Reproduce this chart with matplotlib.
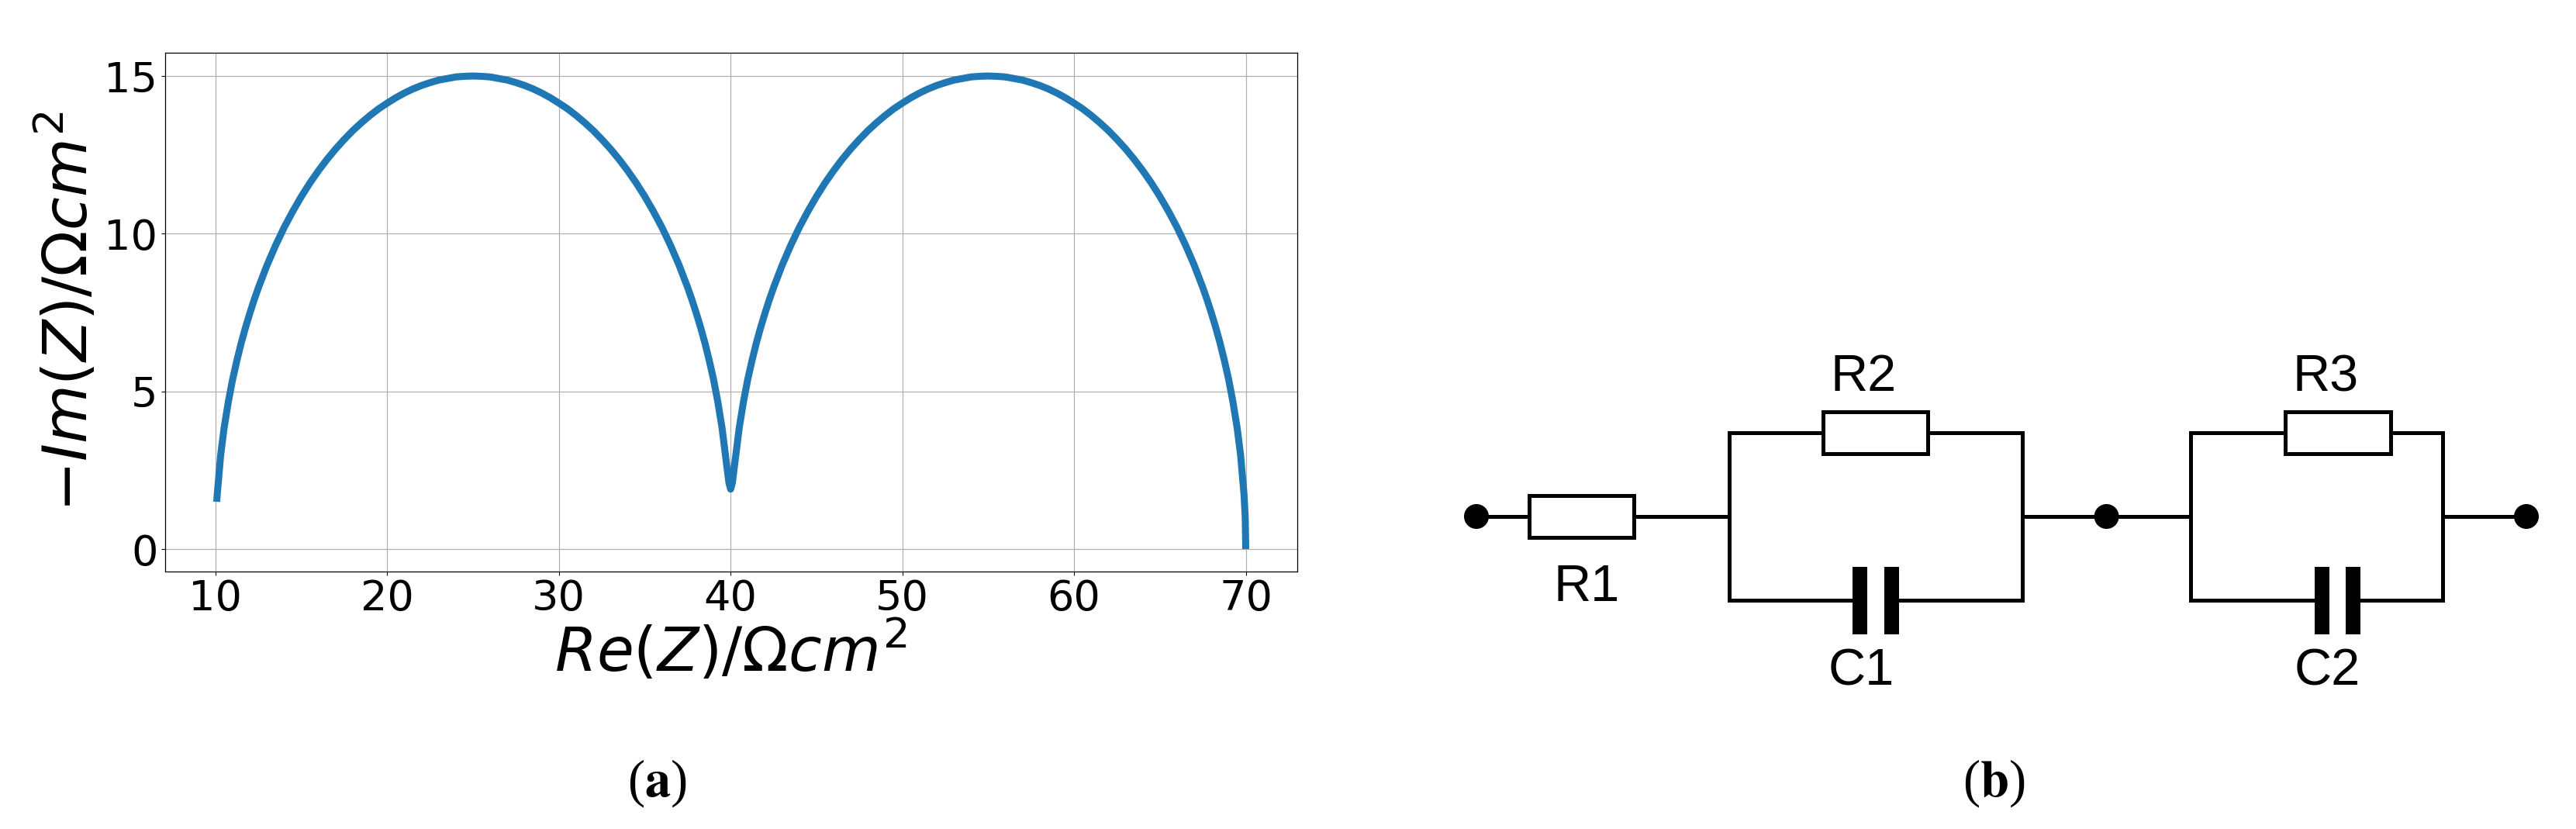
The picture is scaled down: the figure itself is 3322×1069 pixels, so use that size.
import matplotlib
matplotlib.use('Agg')
import matplotlib.pyplot as plt
from matplotlib.patches import Rectangle, Circle

W, H = 3323, 1069

# nyquist curve, one list pair per arc
re_left = [10.07, 10.1, 10.3, 10.5, 10.75, 11, 11.25, 11.5, 11.75, 12, 12.25, 12.5, 13, 13.5, 14, 14.5, 15, 15.5, 16, 16.5,
           17, 17.5, 18, 18.5, 19, 19.5, 20, 20.5, 21, 21.5, 22, 22.5, 23, 23.5, 24, 24.5, 25,
           25.5, 26, 26.5, 27, 27.5, 28, 28.5, 29, 29.5, 30, 30.5, 31, 31.5, 32, 32.5, 33, 33.5,
           34, 34.5, 35, 35.5, 36, 36.5, 37, 37.5, 37.75, 38, 38.25, 38.5, 38.75, 39, 39.25, 39.5, 39.7, 39.9, 40]
im_left = [1.5, 1.73, 2.98, 3.84, 4.68, 5.39, 5.99, 6.54, 7.03, 7.48, 7.9, 8.29, 9.0, 9.63, 10.2, 10.71, 11.18, 11.61, 12.0, 12.36,
           12.69, 12.99, 13.27, 13.52, 13.75, 13.96, 14.14, 14.31, 14.46, 14.59, 14.7, 14.79, 14.87, 14.92, 14.97, 14.99, 15,
           14.99, 14.97, 14.92, 14.87, 14.79, 14.7, 14.59, 14.46, 14.31, 14.14, 13.96, 13.75, 13.52, 13.27, 12.99, 12.69, 12.36,
           12.0, 11.61, 11.18, 10.71, 10.2, 9.63, 9.0, 8.29, 7.9, 7.48, 7.03, 6.54, 5.99, 5.39, 4.68, 3.84, 2.98, 2.1, 1.9]
re_right = [40.1, 40.3, 40.5, 40.75, 41, 41.25, 41.5, 41.75, 42, 42.25, 42.5, 43, 43.5, 44, 44.5, 45, 45.5, 46, 46.5,
            47, 47.5, 48, 48.5, 49, 49.5, 50, 50.5, 51, 51.5, 52, 52.5, 53, 53.5, 54, 54.5, 55,
            55.5, 56, 56.5, 57, 57.5, 58, 58.5, 59, 59.5, 60, 60.5, 61, 61.5, 62, 62.5, 63, 63.5,
            64, 64.5, 65, 65.5, 66, 66.5, 67, 67.5, 67.75, 68, 68.25, 68.5, 68.75, 69, 69.25, 69.5, 69.7, 69.9, 69.97, 70]
im_right = [2.1, 2.98, 3.84, 4.68, 5.39, 5.99, 6.54, 7.03, 7.48, 7.9, 8.29, 9.0, 9.63, 10.2, 10.71, 11.18, 11.61, 12.0, 12.36,
            12.69, 12.99, 13.27, 13.52, 13.75, 13.96, 14.14, 14.31, 14.46, 14.59, 14.7, 14.79, 14.87, 14.92, 14.97, 14.99, 15,
            14.99, 14.97, 14.92, 14.87, 14.79, 14.7, 14.59, 14.46, 14.31, 14.14, 13.96, 13.75, 13.52, 13.27, 12.99, 12.69, 12.36,
            12.0, 11.61, 11.18, 10.71, 10.2, 9.63, 9.0, 8.29, 7.9, 7.48, 7.03, 6.54, 5.99, 5.39, 4.68, 3.84, 2.98, 1.73, 1.0, 0]
x_ticks = [10, 20, 30, 40, 50, 60, 70]
y_ticks = [0, 5, 10, 15]

# circuit parts, in picture pixels
wire_y = 666
top_y = 558
bot_y = 774
dots_x = [1904, 2716.6, 3258]
resistors = [(1972, 638.5, 135, 54.5), (2351, 530.5, 135, 54.5), (2946.7, 530.5, 136, 54.5)]
plates = [(2389, 19), (2430, 19), (2985, 19), (3025, 19)]
plate_top = 730.6
plate_h = 87.4
loops = [(2229.6, 2608), (2825, 3150)]
part_labels = [('R1', 2045.7, 775), ('R2', 2403, 504.5), ('C1', 2400, 883), ('R3', 2999, 504.5), ('C2', 3001, 883)]

fig = plt.figure(figsize=(W / 100, H / 100), dpi=100)

left, right, top, bottom = 212.6, 1672.5, 67.5, 736.5
ax = fig.add_axes([left / W, 1 - bottom / H, (right - left) / W, (bottom - top) / H])
ax.plot(re_left + re_right, im_left + im_right, color='#1f77b4', lw=6.5, solid_capstyle='butt')
ax.set_xlim(7.05, 72.98)
ax.set_ylim(-0.7, 15.75)
ax.set_xticks(x_ticks)
ax.set_yticks(y_ticks)
ax.grid(True, color='#b0b0b0', lw=0.9)
ax.tick_params(labelsize=39, length=3.6, width=0.8, pad=3)
for s in ax.spines.values():
    s.set_linewidth(0.9)
ax.set_xlabel(r'$Re(Z)/\Omega cm^2$', fontsize=56, labelpad=0)
ax.set_ylabel(r'$-Im(Z)/\Omega cm^2$', fontsize=56, labelpad=4)

# circuit goes on a transparent axes covering the whole picture
cx = fig.add_axes([0, 0, 1, 1])
cx.set_xlim(0, W)
cx.set_ylim(H, 0)
cx.axis('off')
cx.patch.set_alpha(0)
lw_c = 3.6

cx.plot([dots_x[0], loops[0][0]], [wire_y, wire_y], color='k', lw=lw_c)
cx.plot([loops[0][1], loops[1][0]], [wire_y, wire_y], color='k', lw=lw_c)
cx.plot([loops[1][1], dots_x[2]], [wire_y, wire_y], color='k', lw=lw_c)
for a, b in loops:
    cx.plot([a, b, b, a, a], [top_y, top_y, bot_y, bot_y, top_y], color='k', lw=lw_c, solid_joinstyle='miter')
for x, y, w, h in resistors:
    cx.add_patch(Rectangle((x, y), w, h, fc='white', ec='k', lw=lw_c, zorder=3))
for x, w in plates:
    cx.add_patch(Rectangle((x, plate_top), w, plate_h, fc='k', ec='none', zorder=3))
for a, b in [(2408, 2430), (3004, 3025)]:
    cx.add_patch(Rectangle((a, bot_y - 4), b - a, 8, fc='white', ec='none', zorder=2.5))
for x in dots_x:
    cx.add_patch(Circle((x, wire_y), 16, fc='k', ec='none', zorder=3))
for name, x, y in part_labels:
    cx.text(x, y, name, family='Liberation Sans', fontsize=48, ha='center', va='baseline')

cx.text(847, 1010, r'($\mathbf{a}$)', family='Liberation Serif', math_fontfamily='stix', fontsize=48, ha='center', va='center')
cx.text(2571, 1010, r'($\mathbf{b}$)', family='Liberation Serif', math_fontfamily='stix', fontsize=48, ha='center', va='center')

plt.savefig('out.png', dpi=100)
plt.close()
